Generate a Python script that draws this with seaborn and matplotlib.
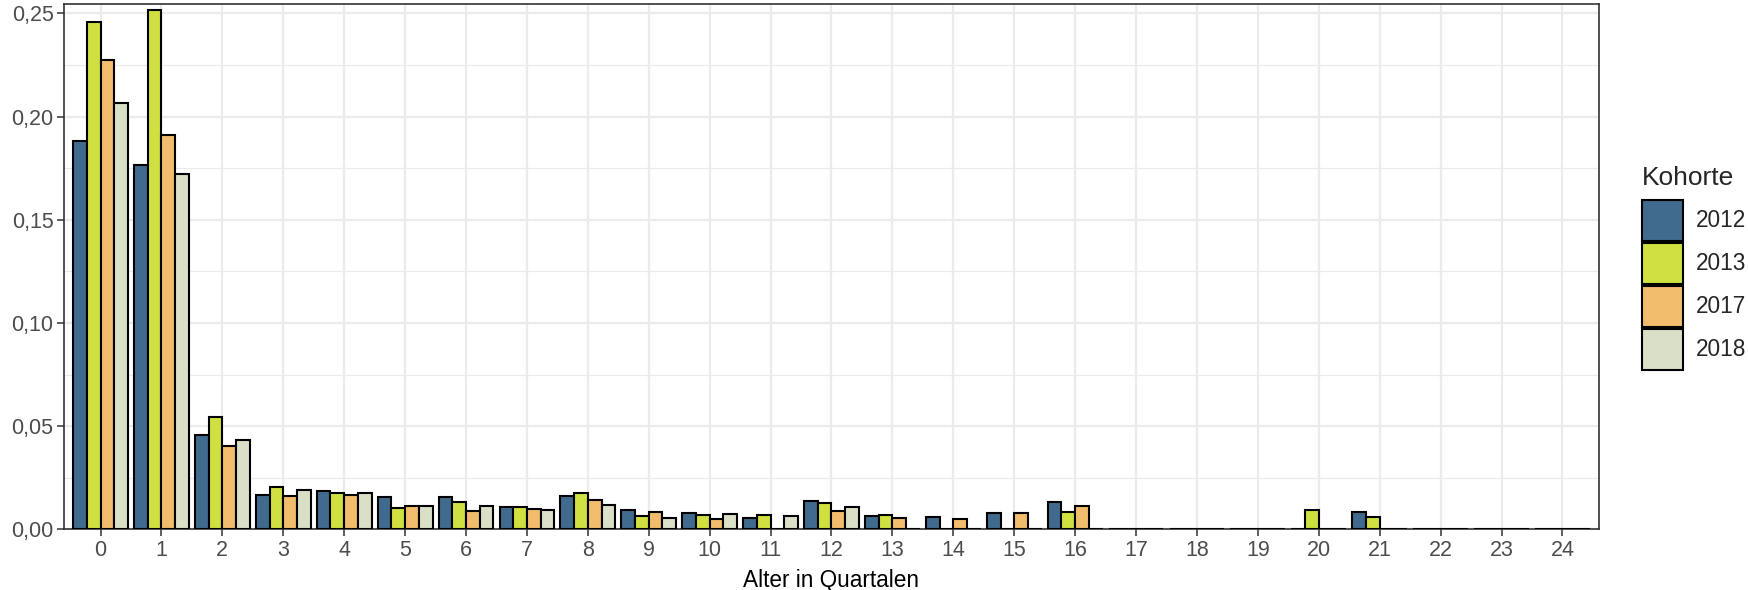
import numpy as np
import pandas as pd
import matplotlib
matplotlib.use("Agg")
import matplotlib.pyplot as plt
import seaborn as sns

# Daten
alter = [str(i) for i in range(25)]
kohorten = ["2012", "2013", "2017", "2018"]

k2012 = [0.188, 0.1765, 0.0455, 0.0165, 0.0186, 0.0155, 0.0155, 0.0110, 0.0163, 0.0092,
         0.0077, 0.0056, 0.0137, 0.0063, 0.0061, 0.0077, 0.0132, 0, 0, 0,
         0, 0.0082, 0, 0, 0]
k2013 = [0.2457, 0.2515, 0.0546, 0.0203, 0.0176, 0.0102, 0.0134, 0.0106, 0.0174, 0.0063,
         0.0069, 0.0068, 0.0127, 0.0069, 0, 0, 0.0082, 0, 0, 0,
         0.0095, 0.0058, 0, 0, 0]
k2017 = [0.2277, 0.191, 0.0403, 0.0163, 0.0165, 0.0115, 0.0090, 0.0098, 0.0142, 0.0082,
         0.0050, 0, 0.0089, 0.0055, 0.0052, 0.0081, 0.0113, 0, 0, 0,
         0, 0, 0, 0, 0]
k2018 = [0.2065, 0.172, 0.0432, 0.0192, 0.0176, 0.0115, 0.0111, 0.0092, 0.0118, 0.0056,
         0.0073, 0.0065, 0.0110, 0, 0, 0, 0, 0, 0, 0,
         0, 0, 0, 0, 0]

farben = ["#406A8E", "#CFE040", "#F2BC6D", "#DADFC7"]

df = pd.DataFrame({
    "Alter": alter * 4,
    "Kohorte": np.repeat(kohorten, len(alter)),
    "Anteil": k2012 + k2013 + k2017 + k2018,
})

sns.set_theme(style="white")
plt.rcParams["font.family"] = ["Liberation Sans", "DejaVu Sans"]

fig = plt.figure(figsize=(17.49, 5.90), dpi=100)
ax = fig.add_axes([64 / 1749, 1 - 529.3 / 590, (1599 - 64) / 1749, (529.3 - 4) / 590])

sns.barplot(data=df, x="Alter", y="Anteil", hue="Kohorte", order=alter, hue_order=kohorten,
            palette=farben, width=0.9, gap=0, edgecolor="black", linewidth=1.5,
            saturation=1, ax=ax, zorder=3)

ax.set_xlim(-0.6, 24.6)
ax.set_ylim(0, 0.2546)
ax.set_yticks([0, 0.05, 0.10, 0.15, 0.20, 0.25])
ax.set_yticklabels(["0,00", "0,05", "0,10", "0,15", "0,20", "0,25"])
ax.set_yticks([0.025, 0.075, 0.125, 0.175, 0.225], minor=True)

ax.grid(True, which="major", color="#EBEBEB", linewidth=1.6, zorder=0)
ax.grid(True, which="minor", axis="y", color="#EBEBEB", linewidth=0.9, zorder=0)
ax.set_axisbelow(True)

for s in ax.spines.values():
    s.set_color("#333333")
    s.set_linewidth(1.2)

ax.tick_params(axis="both", which="major", length=5, width=1.1, color="#333333",
               labelsize=15.5, labelcolor="#4D4D4D", pad=2.5, left=True, bottom=True)
ax.tick_params(axis="both", which="minor", length=0)

ax.set_xlabel("Alter in Quartalen", fontsize=16.3, color="black", labelpad=6)
ax.set_ylabel("")

handles, labels = ax.get_legend_handles_labels()
if ax.legend_:
    ax.legend_.remove()
leg = fig.legend(handles, labels, title="Kohorte", loc="upper left",
                 bbox_to_anchor=(1642 / 1749, 1 - 166 / 590), frameon=False,
                 fontsize=16.3, title_fontsize=19, handlelength=1.8, handleheight=2.4,
                 labelspacing=0.1, handletextpad=0.6, borderpad=0, borderaxespad=0)
leg._legend_box.align = "left"
leg._legend_box.sep = 7

fig.savefig("out.png", dpi=100)
